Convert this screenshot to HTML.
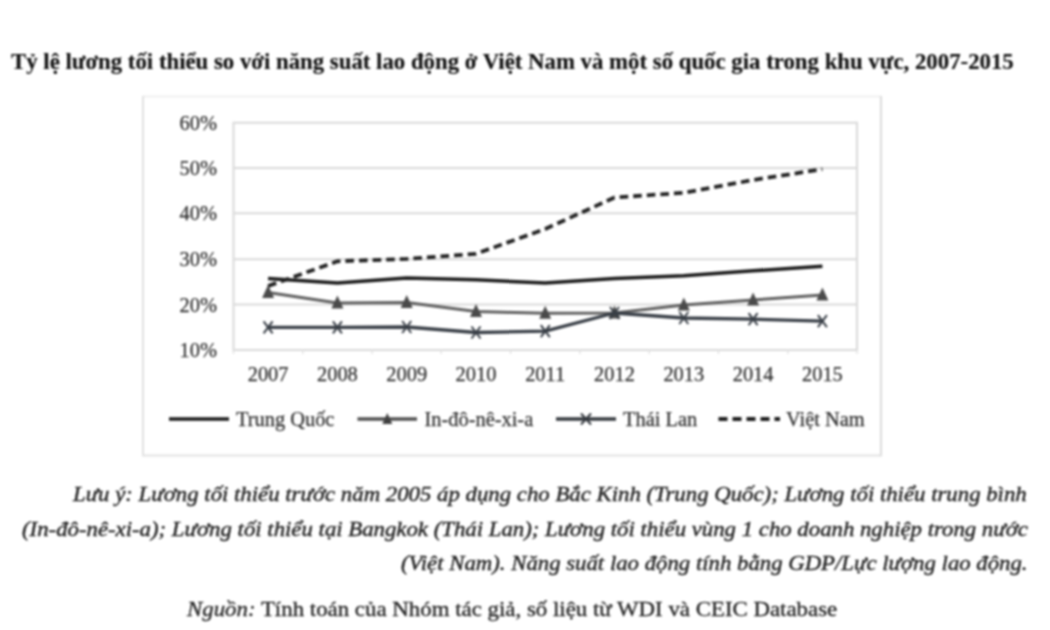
<!DOCTYPE html>
<html><head><meta charset="utf-8"><style>
html,body{margin:0;padding:0;background:#fff;}
body{width:1050px;height:630px;position:relative;overflow:hidden;font-family:"Liberation Serif",serif;}
#wrap{position:absolute;left:0;top:0;width:1050px;height:630px;filter:blur(1.0px);}
.t{position:absolute;white-space:nowrap;color:#1e1e1e;}
#title{left:11px;top:47px;font-size:22.8px;font-weight:bold;line-height:30px;-webkit-text-stroke:0.15px #111;color:#111;}
.note{font-style:italic;font-size:21.2px;color:#202020;line-height:30px;transform-origin:0 0;transform:scaleX(1.073);-webkit-text-stroke:0.4px #202020;}
</style></head><body><div id="wrap">
<svg width="1050" height="630" viewBox="0 0 1050 630" style="position:absolute;left:0;top:0"><line x1="143" y1="96.5" x2="881" y2="96.5" stroke="#efefef" stroke-width="2"/><line x1="143" y1="96" x2="143" y2="456" stroke="#e0e0e0" stroke-width="2"/><line x1="142" y1="455.5" x2="882" y2="455.5" stroke="#e2e2e2" stroke-width="2"/><line x1="881" y1="96" x2="881" y2="456" stroke="#dcdcdc" stroke-width="2"/><line x1="233.5" y1="122.8" x2="857" y2="122.8" stroke="#d9d9d9" stroke-width="2"/><line x1="233.5" y1="168" x2="857" y2="168" stroke="#d9d9d9" stroke-width="2"/><line x1="233.5" y1="213.3" x2="857" y2="213.3" stroke="#d9d9d9" stroke-width="2"/><line x1="233.5" y1="259.2" x2="857" y2="259.2" stroke="#d9d9d9" stroke-width="2"/><line x1="233.5" y1="304.5" x2="857" y2="304.5" stroke="#d9d9d9" stroke-width="2"/><line x1="233.5" y1="350.1" x2="857" y2="350.1" stroke="#d9d9d9" stroke-width="2"/><line x1="233.5" y1="121.8" x2="233.5" y2="350.7" stroke="#d9d9d9" stroke-width="2"/><line x1="857" y1="121.8" x2="857" y2="350.7" stroke="#d9d9d9" stroke-width="2"/><line x1="233.5" y1="350" x2="233.5" y2="354" stroke="#e2e2e2" stroke-width="1.5"/><line x1="302.8" y1="350" x2="302.8" y2="354" stroke="#e2e2e2" stroke-width="1.5"/><line x1="372.1" y1="350" x2="372.1" y2="354" stroke="#e2e2e2" stroke-width="1.5"/><line x1="441.3" y1="350" x2="441.3" y2="354" stroke="#e2e2e2" stroke-width="1.5"/><line x1="510.6" y1="350" x2="510.6" y2="354" stroke="#e2e2e2" stroke-width="1.5"/><line x1="579.9" y1="350" x2="579.9" y2="354" stroke="#e2e2e2" stroke-width="1.5"/><line x1="649.2" y1="350" x2="649.2" y2="354" stroke="#e2e2e2" stroke-width="1.5"/><line x1="718.4" y1="350" x2="718.4" y2="354" stroke="#e2e2e2" stroke-width="1.5"/><line x1="787.7" y1="350" x2="787.7" y2="354" stroke="#e2e2e2" stroke-width="1.5"/><line x1="857.0" y1="350" x2="857.0" y2="354" stroke="#e2e2e2" stroke-width="1.5"/><text x="217" y="129.8" text-anchor="end" font-family="Liberation Serif" font-size="20.4" fill="#303030" stroke="#303030" stroke-width="0.25">60%</text><text x="217" y="175.0" text-anchor="end" font-family="Liberation Serif" font-size="20.4" fill="#303030" stroke="#303030" stroke-width="0.25">50%</text><text x="217" y="220.3" text-anchor="end" font-family="Liberation Serif" font-size="20.4" fill="#303030" stroke="#303030" stroke-width="0.25">40%</text><text x="217" y="266.2" text-anchor="end" font-family="Liberation Serif" font-size="20.4" fill="#303030" stroke="#303030" stroke-width="0.25">30%</text><text x="217" y="311.5" text-anchor="end" font-family="Liberation Serif" font-size="20.4" fill="#303030" stroke="#303030" stroke-width="0.25">20%</text><text x="217" y="357.1" text-anchor="end" font-family="Liberation Serif" font-size="20.4" fill="#303030" stroke="#303030" stroke-width="0.25">10%</text><text x="268.1" y="380.5" text-anchor="middle" font-family="Liberation Serif" font-size="20.4" fill="#303030" stroke="#303030" stroke-width="0.25">2007</text><text x="337.4" y="380.5" text-anchor="middle" font-family="Liberation Serif" font-size="20.4" fill="#303030" stroke="#303030" stroke-width="0.25">2008</text><text x="406.7" y="380.5" text-anchor="middle" font-family="Liberation Serif" font-size="20.4" fill="#303030" stroke="#303030" stroke-width="0.25">2009</text><text x="476.0" y="380.5" text-anchor="middle" font-family="Liberation Serif" font-size="20.4" fill="#303030" stroke="#303030" stroke-width="0.25">2010</text><text x="545.2" y="380.5" text-anchor="middle" font-family="Liberation Serif" font-size="20.4" fill="#303030" stroke="#303030" stroke-width="0.25">2011</text><text x="614.5" y="380.5" text-anchor="middle" font-family="Liberation Serif" font-size="20.4" fill="#303030" stroke="#303030" stroke-width="0.25">2012</text><text x="683.8" y="380.5" text-anchor="middle" font-family="Liberation Serif" font-size="20.4" fill="#303030" stroke="#303030" stroke-width="0.25">2013</text><text x="753.1" y="380.5" text-anchor="middle" font-family="Liberation Serif" font-size="20.4" fill="#303030" stroke="#303030" stroke-width="0.25">2014</text><text x="822.4" y="380.5" text-anchor="middle" font-family="Liberation Serif" font-size="20.4" fill="#303030" stroke="#303030" stroke-width="0.25">2015</text><polyline points="268.1,278.6 337.4,283.0 406.7,278.0 476.0,279.8 545.2,283.0 614.5,278.5 683.8,275.8 753.1,270.8 822.4,266.2" fill="none" stroke="#1a1a1a" stroke-width="3.5" stroke-linejoin="round"/><polyline points="268.1,292.5 337.4,303.0 406.7,302.5 476.0,311.5 545.2,313.2 614.5,313.0 683.8,305.0 753.1,300.0 822.4,295.0" fill="none" stroke="#606060" stroke-width="3" stroke-linejoin="round"/><path d="M262.1,298.0 L268.1,285.0 L274.1,298.0 Z" fill="#4a4a4a"/><path d="M331.4,308.5 L337.4,295.5 L343.4,308.5 Z" fill="#4a4a4a"/><path d="M400.7,308.0 L406.7,295.0 L412.7,308.0 Z" fill="#4a4a4a"/><path d="M470.0,317.0 L476.0,304.0 L482.0,317.0 Z" fill="#4a4a4a"/><path d="M539.2,318.7 L545.2,305.7 L551.2,318.7 Z" fill="#4a4a4a"/><path d="M608.5,318.5 L614.5,305.5 L620.5,318.5 Z" fill="#4a4a4a"/><path d="M677.8,310.5 L683.8,297.5 L689.8,310.5 Z" fill="#4a4a4a"/><path d="M747.1,305.5 L753.1,292.5 L759.1,305.5 Z" fill="#4a4a4a"/><path d="M816.4,300.5 L822.4,287.5 L828.4,300.5 Z" fill="#4a4a4a"/><polyline points="268.1,327.4 337.4,327.4 406.7,327.0 476.0,332.5 545.2,331.2 614.5,313.0 683.8,318.0 753.1,319.2 822.4,321.1" fill="none" stroke="#383e46" stroke-width="3.3" stroke-linejoin="round"/><path d="M263.6,321.4 L272.6,333.4 M272.6,321.4 L263.6,333.4" stroke="#383e46" stroke-width="2"/><path d="M332.9,321.4 L341.9,333.4 M341.9,321.4 L332.9,333.4" stroke="#383e46" stroke-width="2"/><path d="M402.2,321.0 L411.2,333.0 M411.2,321.0 L402.2,333.0" stroke="#383e46" stroke-width="2"/><path d="M471.5,326.5 L480.5,338.5 M480.5,326.5 L471.5,338.5" stroke="#383e46" stroke-width="2"/><path d="M540.8,325.2 L549.8,337.2 M549.8,325.2 L540.8,337.2" stroke="#383e46" stroke-width="2"/><path d="M610.0,307.0 L619.0,319.0 M619.0,307.0 L610.0,319.0" stroke="#383e46" stroke-width="2"/><path d="M679.3,312.0 L688.3,324.0 M688.3,312.0 L679.3,324.0" stroke="#383e46" stroke-width="2"/><path d="M748.6,313.2 L757.6,325.2 M757.6,313.2 L748.6,325.2" stroke="#383e46" stroke-width="2"/><path d="M817.9,315.1 L826.9,327.1 M826.9,315.1 L817.9,327.1" stroke="#383e46" stroke-width="2"/><polyline points="268.1,286.0 337.4,261.3 406.7,258.9 476.0,253.8 545.2,229.0 614.5,197.5 683.8,192.8 753.1,180.0 822.4,169.2" fill="none" stroke="#222" stroke-width="3.8" stroke-dasharray="8.6,5" stroke-linejoin="round"/><line x1="169" y1="419" x2="229" y2="419" stroke="#1a1a1a" stroke-width="3.6"/><text x="236" y="426" font-family="Liberation Serif" font-size="20.4" fill="#303030" stroke="#303030" stroke-width="0.25">Trung Quốc</text><line x1="357.5" y1="419" x2="417" y2="419" stroke="#505050" stroke-width="3.4"/><path d="M382.3,424 L387.3,413 L392.3,424 Z" fill="#404040"/><text x="424.5" y="426" font-family="Liberation Serif" font-size="20.4" fill="#303030" stroke="#303030" stroke-width="0.25">In-đô-nê-xi-a</text><line x1="556" y1="419" x2="616" y2="419" stroke="#34383e" stroke-width="3.4"/><path d="M581,413.5 L591,424.5 M591,413.5 L581,424.5" stroke="#34383e" stroke-width="2"/><text x="623" y="426" font-family="Liberation Serif" font-size="20.4" fill="#303030" stroke="#303030" stroke-width="0.25">Thái Lan</text><line x1="718.5" y1="419" x2="780" y2="419" stroke="#1e1e1e" stroke-width="3.8" stroke-dasharray="9,5"/><text x="786" y="426" font-family="Liberation Serif" font-size="20.4" fill="#303030" stroke="#303030" stroke-width="0.25">Việt Nam</text></svg>
<div class="t" id="title">Tỷ lệ lương tối thiểu so với năng suất lao động ở Việt Nam và một số quốc gia trong khu vực, 2007-2015</div>
<div class="t note" id="n1" style="left:73px;top:478.5px;transform:scaleX(1.0752)">Lưu ý: Lương tối thiểu trước năm 2005 áp dụng cho Bắc Kinh (Trung Quốc); Lương tối thiểu trung bình</div>
<div class="t note" id="n2" style="left:22px;top:514px;transform:scaleX(1.075)">(In-đô-nê-xi-a); Lương tối thiểu tại Bangkok (Thái Lan); Lương tối thiểu vùng 1 cho doanh nghiệp trong nước</div>
<div class="t note" id="n3" style="left:401px;top:547.8px;transform:scaleX(1.0745)">(Việt Nam). Năng suất lao động tính bằng GDP/Lực lượng lao động.</div>
<div class="t" id="n4" style="left:187px;top:594px;font-size:21.2px;line-height:30px;color:#222;transform-origin:0 0;transform:scaleX(1.079);-webkit-text-stroke:0.3px #222"><i>Nguồn:</i> Tính toán của Nhóm tác giả, số liệu từ WDI và CEIC Database</div>
</div></body></html>
